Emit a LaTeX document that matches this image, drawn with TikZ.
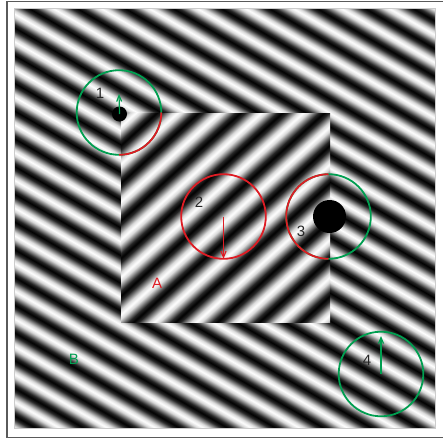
\documentclass[tikz,border=0pt]{standalone}
\usepackage{fontspec}
\setmainfont{Liberation Sans}
\usetikzlibrary{arrows.meta}
\definecolor{gA}{gray}{0.146}
\definecolor{gB}{gray}{0.5}
\definecolor{gC}{gray}{0.854}
\definecolor{myred}{RGB}{222,28,36}
\definecolor{mygreen}{RGB}{0,158,80}
\definecolor{framegray}{RGB}{90,90,90}
\newcount\gcnt
\newcommand\mkgrating[3]{%
  \gcnt=0
  \def\gspec{color(0pt)=(black)}%
  \loop
    \edef\gspec{\gspec; color(\the\dimexpr #2pt*\gcnt+#2pt*1/8\relax)=(gA); color(\the\dimexpr #2pt*\gcnt+#2pt*2/8\relax)=(gB); color(\the\dimexpr #2pt*\gcnt+#2pt*3/8\relax)=(gC); color(\the\dimexpr #2pt*\gcnt+#2pt*4/8\relax)=(white); color(\the\dimexpr #2pt*\gcnt+#2pt*5/8\relax)=(gC); color(\the\dimexpr #2pt*\gcnt+#2pt*6/8\relax)=(gB); color(\the\dimexpr #2pt*\gcnt+#2pt*7/8\relax)=(gA); color(\the\dimexpr #2pt*\gcnt+#2pt\relax)=(black)}%
    \advance\gcnt by 1
  \ifnum\gcnt<#3\relax\repeat
  \edef\gtmp{\noexpand\pgfdeclarehorizontalshading{#1}{900pt}{\gspec}}\gtmp}
\mkgrating{outergrating}{24}{32}
\mkgrating{innergrating}{28}{22}
\begin{document}
\begin{tikzpicture}[x=1pt,y=1pt,
  ring/.style={circle, draw, line width=1.8pt, minimum size=84.6pt, inner sep=0pt, outer sep=0pt},
  lbl/.style={inner sep=0pt, font=\fontsize{15}{15}\selectfont, text=black!85},
  mv/.style={line width=1.2pt, -{Straight Barb[length=6pt,width=5pt]}},
  blob/.style={circle, fill=black, inner sep=0pt, outer sep=0pt}]
\useasboundingbox (0,0) rectangle (443,440);
\fill[white] (0,0) rectangle (443,440);
\draw[framegray, line width=1.5pt] (7,2.5) rectangle (446,438.5);
\begin{scope}
  \clip (15,12) rectangle (435,431);
  \node[inner sep=0pt, outer sep=0pt, rotate=60] (outergrat) at (231,231.9) {\pgfuseshading{outergrating}};
\end{scope}
\draw[black!20, line width=0.6pt] (14.5,11.5) rectangle (435.5,431.5);
\begin{scope}
  \clip (121,118) rectangle (330,327);
  \node[inner sep=0pt, outer sep=0pt, rotate=-48] (innergrat) at (217.5,231.4) {\pgfuseshading{innergrating}};
\end{scope}
% circle 1
\node[ring, draw=mygreen] (c1) at (119,327.5) {};
\draw[myred, line width=1.8pt] (c1.east) arc[start angle=0, end angle=-90, radius=42.3pt];
\node[blob, minimum size=15pt] (d1) at (119.5,326) {};
\coordinate (t1) at (119,346);
\draw[mv, mygreen] (d1.center) -- (t1);
\node[lbl] (n1) at (100,347) {1};
% circle 2
\node[ring, draw=myred] (c2) at (223.5,223.5) {};
\draw[mv, myred] (c2.center) -- (c2.south);
\node[lbl] (n2) at (199,238) {2};
% circle 3
\node[ring, draw=mygreen] (c3) at (328.5,223.5) {};
\draw[myred, line width=1.8pt] (c3.north) arc[start angle=90, end angle=270, radius=42.3pt];
\node[blob, minimum size=33pt] (d3) at (329.5,223.5) {};
\node[lbl] (n3) at (301,209) {3};
% circle 4
\node[ring, draw=mygreen] (c4) at (381,66) {};
\coordinate (t4) at (381,104);
\draw[mv, mygreen] (c4.center) -- (t4);
\node[lbl] (n4) at (367,80) {4};
% region labels
\node[lbl, text=myred] (la) at (157,157) {A};
\node[lbl, text=mygreen] (lb) at (74,81) {B};
\end{tikzpicture}
\end{document}
